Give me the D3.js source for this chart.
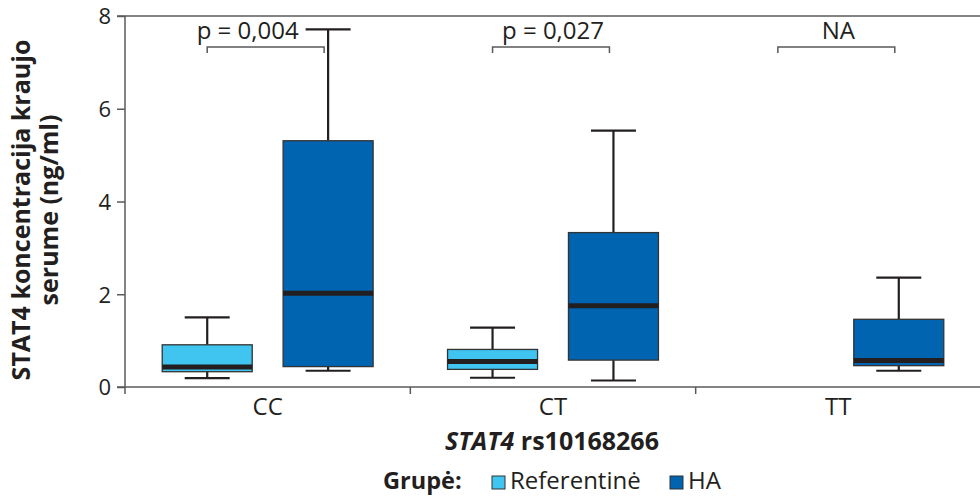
<!DOCTYPE html>
<html>
<head>
<meta charset="utf-8">
<script src="https://cdn.jsdelivr.net/npm/d3@7"></script>
<style>
  html, body { margin: 0; padding: 0; background: #fff; }
  svg { display: block; font-family: "Open Sans", sans-serif; }
</style>
</head>
<body>
<svg id="chart" width="980" height="496"></svg>
<script>
// Genotypes of STAT4 rs10168266 and study groups
const genotypes = ["CC", "CT", "TT"];
const groups = ["Referentinė", "HA"];
const groupColors = ["#40c5f1", "#0064b1"];

// Box-plot summaries (ng/ml): [min whisker, Q1, median, Q3, max whisker]; null = no data
const referentineStats = [
  [0.19, 0.33, 0.43, 0.91, 1.50],
  [0.20, 0.38, 0.55, 0.81, 1.28],
  null
];
const haStats = [
  [0.35, 0.44, 2.02, 5.31, 7.71],
  [0.14, 0.58, 1.75, 3.33, 5.53],
  [0.35, 0.46, 0.57, 1.46, 2.36]
];

// Pairwise comparison labels between groups per genotype
const pLabels = ["p = 0,004", "p = 0,027", "NA"];
const bracketLevel = 7.33;

const yTicks = [0, 2, 4, 6, 8];

const svg = d3.select("#chart");
const ink = "#231f20";
const axisGrey = "#5a5a5a";
const fs = 24;

const y = d3.scaleLinear().domain([0, 8]).range([387, 16]);
const x = d3.scaleBand().domain(genotypes).range([125, 981]).padding(0);
const xg = d3.scalePoint().domain(groups).range([0, x.bandwidth()]).padding(0.68);
const boxW = 90;

// Frame: top border line
svg.append("line")
  .attr("x1", 117).attr("x2", 980)
  .attr("y1", y(8)).attr("y2", y(8))
  .attr("stroke", axisGrey).attr("stroke-width", 1.5);

// Y axis
const yAxis = svg.append("g")
  .attr("transform", "translate(125,0)")
  .call(d3.axisLeft(y).tickValues(yTicks).tickSize(8).tickPadding(6));
yAxis.select(".domain").remove();
yAxis.selectAll(".tick line").attr("stroke", axisGrey).attr("stroke-width", 1.5);
yAxis.selectAll(".tick text")
  .attr("font-family", "Open Sans, sans-serif")
  .attr("font-size", 22).attr("dy", "0.36em").attr("fill", ink);
svg.append("line")
  .attr("x1", 125).attr("x2", 125)
  .attr("y1", y(8)).attr("y2", y(0) + 7)
  .attr("stroke", axisGrey).attr("stroke-width", 1.5);

// X axis
const xAxis = svg.append("g")
  .attr("transform", `translate(0,${y(0)})`)
  .call(d3.axisBottom(x).tickSize(0).tickPadding(11));
xAxis.select(".domain").remove();
xAxis.selectAll(".tick text")
  .attr("font-family", "Open Sans, sans-serif")
  .attr("font-size", fs).attr("fill", ink);
svg.append("line")
  .attr("x1", 117).attr("x2", 980)
  .attr("y1", y(0)).attr("y2", y(0))
  .attr("stroke", axisGrey).attr("stroke-width", 1.5);
svg.selectAll(".band-sep")
  .data(genotypes.slice(1))
  .join("line")
  .attr("class", "band-sep")
  .attr("x1", d => x(d)).attr("x2", d => x(d))
  .attr("y1", y(0)).attr("y2", y(0) + 7)
  .attr("stroke", axisGrey).attr("stroke-width", 1.5);

// Boxes
const boxes = [];
genotypes.forEach((g, i) => {
  [referentineStats[i], haStats[i]].forEach((s, j) => {
    if (s) boxes.push({ g, group: groups[j], color: groupColors[j], s });
  });
});

const bg = svg.selectAll(".box")
  .data(boxes)
  .join("g")
  .attr("class", "box")
  .attr("transform", d => `translate(${x(d.g) + xg(d.group)},0)`);

// Whiskers
bg.append("line")
  .attr("x1", 0).attr("x2", 0)
  .attr("y1", d => y(d.s[4])).attr("y2", d => y(d.s[3]))
  .attr("stroke", ink).attr("stroke-width", 2.2);
bg.append("line")
  .attr("x1", 0).attr("x2", 0)
  .attr("y1", d => y(d.s[1])).attr("y2", d => y(d.s[0]))
  .attr("stroke", ink).attr("stroke-width", 2.2);
bg.selectAll(".cap")
  .data(d => [d.s[0], d.s[4]])
  .join("line")
  .attr("class", "cap")
  .attr("x1", -boxW / 4).attr("x2", boxW / 4)
  .attr("y1", v => y(v)).attr("y2", v => y(v))
  .attr("stroke", ink).attr("stroke-width", 2.2);

// Interquartile box
bg.append("rect")
  .attr("x", -boxW / 2).attr("width", boxW)
  .attr("y", d => y(d.s[3]))
  .attr("height", d => y(d.s[1]) - y(d.s[3]))
  .attr("fill", d => d.color)
  .attr("stroke", "#333").attr("stroke-width", 1.3);

// Median
bg.append("line")
  .attr("x1", -boxW / 2).attr("x2", boxW / 2)
  .attr("y1", d => y(d.s[2])).attr("y2", d => y(d.s[2]))
  .attr("stroke", ink).attr("stroke-width", 5);

// Comparison brackets
const bracketTop = y(bracketLevel);
const bracketDrop = 6;
genotypes.forEach((g, i) => {
  const x0 = x(g) + xg(groups[0]);
  const x1 = x(g) + xg(groups[1]) - 4;
  svg.append("path")
    .attr("d", `M${x0},${bracketTop + bracketDrop}V${bracketTop}H${x1}V${bracketTop + bracketDrop}`)
    .attr("fill", "none").attr("stroke", axisGrey).attr("stroke-width", 1.5);
  // first label sits left of the tall whisker cap
  const cx = i === 0 ? x(g) + x.bandwidth() / 2 - 20 : x(g) + x.bandwidth() / 2;
  svg.append("text")
    .attr("x", cx).attr("y", 39)
    .attr("text-anchor", "middle")
    .attr("font-size", fs).attr("fill", ink)
    .text(pLabels[i]);
});

// Y axis title
const yTitle = svg.append("text")
  .attr("transform", "translate(30,210) rotate(-90)")
  .attr("text-anchor", "middle")
  .attr("font-size", 25).attr("font-weight", 700).attr("fill", ink);
yTitle.append("tspan").attr("x", 0).attr("dy", 0).text("STAT4 koncentracija kraujo");
yTitle.append("tspan").attr("x", 0).attr("dy", 28).text("serume (ng/ml)");

// X axis title
const xTitle = svg.append("text")
  .attr("x", 552).attr("y", 450)
  .attr("text-anchor", "middle")
  .attr("font-size", 25).attr("font-weight", 700).attr("fill", ink);
xTitle.append("tspan").attr("font-style", "italic").text("STAT4");
xTitle.append("tspan").text(" rs10168266");

// Legend
const legend = svg.append("g");
legend.append("text")
  .attr("x", 383).attr("y", 489)
  .attr("font-size", 23.5).attr("font-weight", 700).attr("fill", ink)
  .text("Grupė:");
const legendX = [492, 670];
groups.forEach((gName, j) => {
  legend.append("rect")
    .attr("x", legendX[j]).attr("y", 476)
    .attr("width", 13).attr("height", 13)
    .attr("fill", groupColors[j]).attr("stroke", "#333").attr("stroke-width", 1);
  legend.append("text")
    .attr("x", legendX[j] + 18).attr("y", 489)
    .attr("font-size", fs).attr("fill", ink)
    .text(gName);
});
</script>
</body>
</html>
